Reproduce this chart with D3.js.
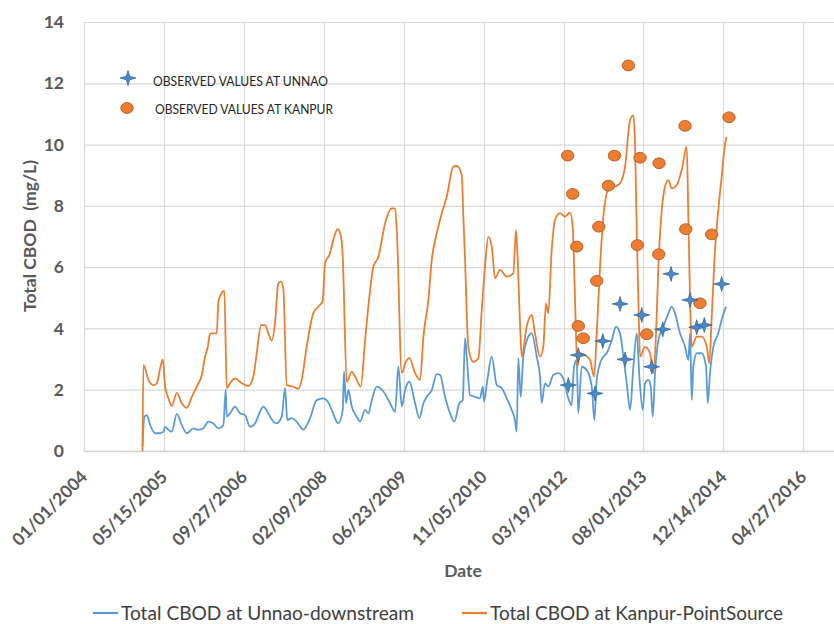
<!DOCTYPE html>
<html>
<head>
<meta charset="utf-8">
<script src="https://cdn.jsdelivr.net/npm/d3@7"></script>
<style>
  html, body { margin: 0; padding: 0; background: #ffffff; }
  svg { display: block; }
  text { font-family: Lato, "Open Sans", "Noto Sans", sans-serif; }
</style>
</head>
<body>
<svg id="chart" width="834" height="624"></svg>
<script>
// Simulated total CBOD, Kanpur point source (decimal year, mg/L)
const kanpurYears = [2005.000,2005.016,2005.045,2005.101,2005.187,2005.245,2005.302,2005.348,2005.387,2005.444,
  2005.502,2005.588,2005.673,2005.759,2005.845,2005.930,2006.016,2006.072,2006.119,2006.158,
  2006.273,2006.300,2006.329,2006.403,2006.444,2006.501,2006.586,2006.701,2006.814,2006.900,
  2006.958,2007.032,2007.100,2007.157,2007.215,2007.271,2007.328,2007.374,2007.414,2007.472,
  2007.585,2007.671,2007.729,2007.814,2007.927,2008.013,2008.088,2008.128,2008.213,2008.270,
  2008.345,2008.402,2008.431,2008.499,2008.585,2008.642,2008.739,2008.813,2008.899,2008.955,
  2009.041,2009.155,2009.270,2009.327,2009.356,2009.442,2009.498,2009.572,2009.669,2009.755,
  2009.812,2009.897,2009.955,2010.041,2010.127,2010.212,2010.325,2010.384,2010.469,2010.497,
  2010.526,2010.582,2010.668,2010.754,2010.812,2010.868,2010.925,2010.983,2011.040,2011.125,
  2011.240,2011.353,2011.399,2011.421,2011.468,2011.497,2011.582,2011.668,2011.725,2011.810,
  2011.867,2011.913,2011.952,2012.011,2012.067,2012.153,2012.238,2012.324,2012.370,2012.410,
  2012.449,2012.495,2012.581,2012.667,2012.735,2012.781,2012.838,2012.894,2012.980,2013.095,
  2013.180,2013.266,2013.352,2013.408,2013.437,2013.467,2013.494,2013.523,2013.609,2013.694,
  2013.751,2013.797,2013.837,2013.895,2013.951,2014.008,2014.066,2014.152,2014.237,2014.323,
  2014.350,2014.380,2014.409,2014.494,2014.580,2014.666,2014.710,2014.751,2014.808,2014.864,
  2014.922,2014.979,2015.005];
const kanpurValues = [0,2.81,2.70,2.32,2.15,2.21,2.70,2.99,2.10,1.72,
  1.47,1.90,1.56,1.41,1.77,2.10,2.48,3.08,3.40,3.84,
  3.84,4.87,5.04,5.23,2.05,2.21,2.37,2.21,2.12,2.43,
  3.19,4.11,4.11,3.84,3.60,4.17,5.47,5.53,5.30,2.15,
  2.10,2.03,2.32,3.40,4.49,4.71,4.90,6.12,6.45,6.89,
  7.24,6.99,6.34,2.26,2.59,2.43,2.10,3.62,5.25,6.02,
  6.34,7.43,7.92,7.92,7.21,2.54,2.86,3.03,2.54,2.32,
  3.73,4.93,6.23,7.10,7.76,8.30,9.28,9.30,9.01,7.65,
  6.23,3.40,2.91,3.03,4.60,6.02,6.99,6.67,5.64,5.91,
  5.69,5.80,7.21,6.56,4.17,3.08,4.06,4.44,3.84,3.08,
  3.40,4.82,4.49,6.56,7.54,7.76,7.65,7.78,7.32,4.93,
  2.75,3.19,3.13,2.97,2.43,3.84,6.02,7.65,8.52,8.63,
  8.74,9.28,10.80,10.95,10.00,7.10,4.93,3.08,3.40,3.19,
  2.54,3.84,6.02,7.87,8.63,8.84,8.57,8.68,9.17,9.93,
  7.65,4.93,3.40,3.73,3.73,3.40,2.86,4.38,6.56,7.87,
  8.95,10.00,10.25];

// Simulated total CBOD, Unnao downstream (decimal year, mg/L)
const unnaoYears = [2005.000,2005.033,2005.074,2005.130,2005.216,2005.302,2005.358,2005.387,2005.444,2005.502,
  2005.588,2005.673,2005.759,2005.872,2005.958,2006.043,2006.129,2006.215,2006.300,2006.386,
  2006.427,2006.444,2006.501,2006.586,2006.672,2006.758,2006.843,2006.929,2007.014,2007.071,
  2007.157,2007.242,2007.300,2007.386,2007.443,2007.482,2007.557,2007.643,2007.756,2007.871,
  2007.986,2008.099,2008.179,2008.243,2008.356,2008.431,2008.453,2008.487,2008.527,2008.585,
  2008.671,2008.727,2008.813,2008.869,2008.928,2009.013,2009.126,2009.241,2009.327,2009.383,
  2009.442,2009.498,2009.572,2009.669,2009.743,2009.812,2009.870,2009.955,2010.041,2010.098,
  2010.183,2010.269,2010.342,2010.428,2010.486,2010.526,2010.555,2010.611,2010.697,2010.783,
  2010.829,2010.851,2010.908,2010.983,2011.069,2011.154,2011.240,2011.326,2011.382,2011.411,
  2011.439,2011.480,2011.524,2011.610,2011.668,2011.754,2011.810,2011.839,2011.896,2011.952,
  2012.038,2012.124,2012.209,2012.295,2012.353,2012.393,2012.439,2012.466,2012.524,2012.610,
  2012.696,2012.740,2012.781,2012.838,2012.894,2012.953,2013.038,2013.112,2013.180,2013.237,
  2013.295,2013.352,2013.408,2013.467,2013.511,2013.569,2013.609,2013.665,2013.706,2013.740,
  2013.780,2013.837,2013.922,2014.008,2014.066,2014.122,2014.208,2014.294,2014.350,2014.380,
  2014.409,2014.436,2014.494,2014.580,2014.654,2014.683,2014.722,2014.779,2014.864,2014.922,
  2014.996];
const unnaoValues = [0.14,1.12,1.17,0.85,0.58,0.58,0.63,0.79,0.69,0.63,
  1.21,0.85,0.58,0.74,0.69,0.74,0.96,0.90,0.74,0.85,
  2.01,1.12,1.23,1.45,1.23,1.17,0.79,0.90,1.28,1.45,
  1.23,0.96,0.90,1.12,2.05,1.01,1.07,0.96,0.70,1.07,
  1.66,1.72,1.60,1.34,0.90,1.34,2.59,1.56,1.99,1.45,
  1.12,0.96,1.34,1.23,1.66,2.10,1.94,1.56,1.28,2.75,
  1.45,1.99,2.26,1.56,1.07,1.56,1.77,1.99,2.51,2.48,
  1.77,1.23,0.96,1.56,1.66,3.68,3.08,1.83,1.77,1.72,
  2.10,1.61,2.32,3.08,2.15,2.05,1.72,1.34,1.01,0.63,
  3.03,1.77,3.08,3.73,3.85,3.08,2.45,1.56,2.21,2.10,
  2.48,2.54,2.37,1.72,1.50,2.75,2.97,1.23,2.75,2.64,
  2.10,1.01,2.32,2.86,3.08,3.19,3.62,4.06,3.84,3.08,
  2.21,1.34,2.75,3.84,2.43,1.34,2.21,2.32,2.10,1.12,
  2.54,3.62,4.06,4.49,4.71,4.49,3.84,3.40,2.97,3.84,
  1.66,2.75,3.19,3.19,2.75,1.56,2.54,3.40,3.84,4.28,
  4.71];

// Observed samples
const obsKanpurYears = [2012.285,2012.370,2012.439,2012.466,2012.552,2012.781,2012.816,2012.980,2013.083,2013.323,
  2013.523,2013.477,2013.638,2013.848,2013.843,2014.294,2014.306,2014.551,2014.751,2015.047];
const obsKanpurValues = [9.64,8.39,6.67,4.08,3.68,5.55,7.32,8.66,9.64,12.58,
  9.57,6.72,3.81,9.39,6.42,10.61,7.24,4.82,7.07,10.89];
const obsUnnaoYears = [2012.295,2012.466,2012.752,2012.884,2013.180,2013.266,2013.552,2013.723,2013.912,2014.054,
  2014.380,2014.494,2014.624,2014.922];
const obsUnnaoValues = [2.15,3.13,1.88,3.59,4.80,2.99,4.44,2.75,3.97,5.78,
  4.93,4.04,4.11,5.45];

const xTickLabels = ["01/01/2004","05/15/2005","09/27/2006","02/09/2008","06/23/2009",
  "11/05/2010","03/19/2012","08/01/2013","12/14/2014","04/27/2016"];
const yTicks = [0,2,4,6,8,10,12,14];

const seriesNames = ["Total CBOD at Unnao-downstream","Total CBOD at Kanpur-PointSource"];
const observedNames = ["OBSERVED VALUES AT UNNAO","OBSERVED VALUES AT KANPUR"];

// ---- helpers ----
function yearToDate(yv) {
  const yr = Math.floor(yv);
  const a = Date.UTC(yr, 0, 1), b = Date.UTC(yr + 1, 0, 1);
  return new Date(a + (yv - yr) * (b - a));
}
const parseTick = d3.utcParse("%m/%d/%Y");
const zip = (xs, ys) => xs.map((v, i) => ({ date: yearToDate(v), value: ys[i] }));

const kanpur = zip(kanpurYears, kanpurValues);
const unnao = zip(unnaoYears, unnaoValues);
const obsKanpur = zip(obsKanpurYears, obsKanpurValues);
const obsUnnao = zip(obsUnnaoYears, obsUnnaoValues);
const tickDates = xTickLabels.map(parseTick);

// ---- layout ----
const svg = d3.select("#chart");
const plotL = 84, plotR = 834, plotT = 22, plotB = 451;
const startDate = tickDates[0];
const tickStep = tickDates[1] - tickDates[0];
const x = d3.scaleUtc()
  .domain([startDate, new Date(+startDate + tickStep * (plotR - plotL) / 79.92)])
  .range([plotL, plotR]);
const y = d3.scaleLinear().domain([0, 14]).range([plotB, plotT]);

const BLUE = "#5B9BD5", ORANGE = "#ED7D31", GRID = "#d9d9d9", TXT = "#595959";

// gridlines
const grid = svg.append("g");
grid.selectAll("line.h").data(yTicks).join("line")
  .attr("x1", plotL).attr("x2", plotR)
  .attr("y1", d => y(d) + 0.5).attr("y2", d => y(d) + 0.5)
  .attr("stroke", GRID).attr("stroke-width", 1.2);
grid.selectAll("line.v").data(tickDates).join("line")
  .attr("x1", d => Math.round(x(d)) + 0.5).attr("x2", d => Math.round(x(d)) + 0.5)
  .attr("y1", plotT).attr("y2", plotB)
  .attr("stroke", GRID).attr("stroke-width", 1.2);

// y axis labels
const yAxis = svg.append("g")
  .attr("transform", `translate(${plotL},0)`)
  .call(d3.axisLeft(y).tickValues(yTicks).tickSize(0).tickPadding(20));
yAxis.select(".domain").remove();
yAxis.selectAll("text")
  .attr("fill", TXT).attr("font-size", 17.5).attr("font-weight", 700)
  .attr("font-family", "Lato, 'Open Sans', sans-serif");

// x axis labels (rotated)
const xAxis = svg.append("g")
  .attr("transform", `translate(0,${plotB})`)
  .call(d3.axisBottom(x).tickValues(tickDates).tickSize(0).tickFormat((d, i) => xTickLabels[i]));
xAxis.select(".domain").attr("stroke", "#cfcfcf").attr("stroke-width", 1.4);
xAxis.selectAll("text")
  .attr("fill", TXT).attr("font-size", 17.5).attr("font-weight", 700)
  .attr("font-family", "Lato, 'Open Sans', sans-serif")
  .attr("text-anchor", "end")
  .attr("dy", null).attr("y", null)
  .attr("transform", "translate(4,27) rotate(-45)");

// simulated lines
const line = d3.line().x(d => x(d.date)).y(d => y(d.value)).curve(d3.curveMonotoneX);
svg.append("path").datum(unnao).attr("d", line)
  .attr("fill", "none").attr("stroke", BLUE).attr("stroke-width", 1.8).attr("stroke-linejoin", "round");
svg.append("path").datum(kanpur).attr("d", line)
  .attr("fill", "none").attr("stroke", ORANGE).attr("stroke-width", 1.8).attr("stroke-linejoin", "round");

// markers
const starPath = "M0,-7.5 L1.7,-1.7 L8,0 L1.7,1.7 L0,7.5 L-1.7,1.7 L-8,0 L-1.7,-1.7 Z";
function drawDot(g, cx, cy) {
  g.append("ellipse").attr("cx", cx).attr("cy", cy).attr("rx", 6.2).attr("ry", 5.4)
    .attr("fill", ORANGE).attr("stroke", "#b05a1e").attr("stroke-width", 0.9);
}
function drawStar(g, cx, cy) {
  g.append("path").attr("d", starPath).attr("transform", `translate(${cx},${cy})`)
    .attr("fill", "#4a89c8").attr("stroke", "#2e5f90").attr("stroke-width", 0.7);
}
const marks = svg.append("g");
obsKanpur.forEach(d => drawDot(marks, x(d.date), y(d.value)));
obsUnnao.forEach(d => drawStar(marks, x(d.date), y(d.value)));

// legend for observed markers
const inLeg = svg.append("g");
drawStar(inLeg, 128, 78);
drawDot(inLeg, 127, 108);
inLeg.append("text").attr("x", 153).attr("y", 86).text(observedNames[0])
  .attr("font-size", 13).attr("fill", "#262626")
  .attr("textLength", 175).attr("lengthAdjust", "spacingAndGlyphs");
inLeg.append("text").attr("x", 155).attr("y", 114).text(observedNames[1])
  .attr("font-size", 13).attr("fill", "#262626")
  .attr("textLength", 178).attr("lengthAdjust", "spacingAndGlyphs");

// axis titles
svg.append("text").attr("x", 463).attr("y", 577).attr("text-anchor", "middle")
  .attr("font-size", 17.5).attr("font-weight", 700).attr("fill", TXT).text("Date");
svg.append("text").attr("transform", "translate(36,236) rotate(-90)").attr("text-anchor", "middle")
  .attr("font-size", 17.5).attr("font-weight", 700).attr("fill", TXT)
  .style("white-space", "pre").text("Total CBOD  (mg/L)");

// series legend
const leg = svg.append("g");
[[93, BLUE, seriesNames[0]], [462, ORANGE, seriesNames[1]]].forEach(([lx, c, t]) => {
  leg.append("line").attr("x1", lx).attr("x2", lx + 25).attr("y1", 613).attr("y2", 613)
    .attr("stroke", c).attr("stroke-width", 2.2);
  leg.append("text").attr("x", lx + 28).attr("y", 620).text(t)
    .attr("font-size", 18.5).attr("fill", "#404040")
    .attr("textLength", 293).attr("lengthAdjust", "spacingAndGlyphs");
});
</script>
</body>
</html>
